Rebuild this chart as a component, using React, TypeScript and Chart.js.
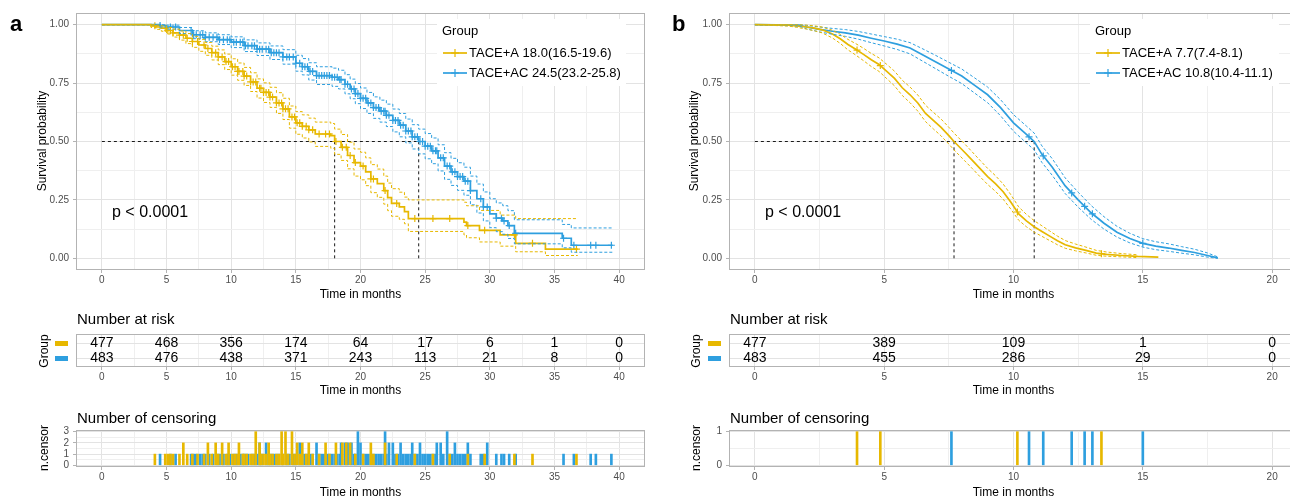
import React, { useEffect, useRef } from "react";
import { Chart, registerables } from "chart.js";

Chart.register(...registerables);

const FONT = "'Liberation Sans', Arial, Helvetica, sans-serif";
const COL_A = "#E7B800";
const COL_AC = "#2E9FDF";
const GRID_MAJOR = "#E3E3E3";
const GRID_MINOR = "#EFEFEF";
const BORDER = "#B3B3B3";
const TICK_TEXT = "#4D4D4D";

// ---------------- Panel a : survival (TACE+A) ----------------
const aTimeA = [0, 3.8, 4.2, 4.6, 5.0, 5.5, 6.0, 6.5, 7.0, 7.5, 8.0, 8.5, 9.0, 9.5, 10.0, 10.5, 11.0, 11.5, 12.0, 12.5, 13.0, 13.5, 14.0, 14.5, 15.0, 15.5, 16.0, 16.5, 17.7, 18.0, 18.5, 19.0, 19.5, 20.0, 20.4, 20.8, 21.3, 21.8, 22.1, 22.4, 23.0, 23.4, 23.7, 28.0, 28.2, 29.2, 30.8, 32.0, 34.3, 36.8];
const aSurvA = [1, 0.995, 0.99, 0.985, 0.975, 0.965, 0.955, 0.942, 0.928, 0.913, 0.898, 0.88, 0.862, 0.842, 0.82, 0.8, 0.78, 0.755, 0.728, 0.71, 0.69, 0.665, 0.64, 0.605, 0.58, 0.565, 0.55, 0.532, 0.525, 0.5, 0.475, 0.44, 0.41, 0.395, 0.37, 0.34, 0.32, 0.29, 0.26, 0.235, 0.22, 0.2, 0.17, 0.155, 0.14, 0.12, 0.1, 0.064, 0.039, 0.039];
const aUpperA = [1, 1, 0.998, 0.995, 0.988, 0.981, 0.973, 0.962, 0.95, 0.937, 0.924, 0.908, 0.892, 0.874, 0.854, 0.836, 0.817, 0.794, 0.768, 0.751, 0.732, 0.709, 0.685, 0.652, 0.628, 0.614, 0.6, 0.583, 0.577, 0.553, 0.53, 0.497, 0.468, 0.454, 0.43, 0.401, 0.382, 0.352, 0.322, 0.298, 0.283, 0.262, 0.25, 0.24, 0.225, 0.205, 0.185, 0.17, 0.17, 0.17];
const aLowerA = [1, 0.988, 0.98, 0.972, 0.96, 0.947, 0.934, 0.919, 0.903, 0.886, 0.869, 0.849, 0.829, 0.808, 0.784, 0.762, 0.74, 0.714, 0.686, 0.667, 0.646, 0.62, 0.594, 0.557, 0.531, 0.515, 0.498, 0.479, 0.471, 0.445, 0.419, 0.383, 0.352, 0.336, 0.311, 0.281, 0.261, 0.232, 0.204, 0.18, 0.167, 0.148, 0.115, 0.1, 0.088, 0.07, 0.052, 0.028, 0.012, 0.012];

// ---------------- Panel a : survival (TACE+AC) ----------------
const aTimeAC = [0, 4.5, 5.0, 6.0, 7.0, 8.0, 9.0, 10.0, 11.0, 12.0, 13.0, 14.0, 15.0, 15.5, 16.0, 16.6, 17.8, 18.3, 18.8, 19.2, 19.6, 20.0, 20.5, 21.0, 21.5, 22.0, 22.5, 23.0, 23.5, 24.0, 24.5, 25.0, 25.5, 26.0, 26.5, 27.0, 27.5, 28.0, 28.5, 29.0, 29.5, 30.0, 30.5, 31.0, 31.4, 31.9, 35.6, 36.3, 39.5];
const aSurvAC = [1, 0.996, 0.99, 0.975, 0.957, 0.946, 0.936, 0.925, 0.91, 0.895, 0.88, 0.862, 0.835, 0.82, 0.8, 0.782, 0.775, 0.765, 0.745, 0.725, 0.705, 0.685, 0.665, 0.645, 0.63, 0.612, 0.59, 0.57, 0.545, 0.52, 0.5, 0.48, 0.46, 0.43, 0.395, 0.37, 0.35, 0.33, 0.29, 0.255, 0.22, 0.19, 0.172, 0.16, 0.14, 0.107, 0.086, 0.056, 0.056];
const aUpperAC = [1, 1, 0.998, 0.988, 0.974, 0.965, 0.957, 0.948, 0.935, 0.922, 0.909, 0.893, 0.869, 0.855, 0.837, 0.82, 0.814, 0.805, 0.786, 0.767, 0.748, 0.729, 0.71, 0.691, 0.677, 0.66, 0.639, 0.62, 0.596, 0.572, 0.553, 0.534, 0.515, 0.486, 0.452, 0.428, 0.409, 0.39, 0.352, 0.318, 0.284, 0.255, 0.237, 0.225, 0.204, 0.165, 0.145, 0.13, 0.13];
const aLowerAC = [1, 0.99, 0.981, 0.962, 0.94, 0.927, 0.915, 0.902, 0.885, 0.868, 0.851, 0.831, 0.801, 0.785, 0.763, 0.744, 0.736, 0.725, 0.704, 0.683, 0.662, 0.641, 0.62, 0.599, 0.583, 0.564, 0.541, 0.52, 0.494, 0.468, 0.447, 0.426, 0.405, 0.374, 0.338, 0.312, 0.291, 0.27, 0.229, 0.194, 0.16, 0.131, 0.114, 0.103, 0.085, 0.062, 0.045, 0.026, 0.026];

// ---------------- Panel a : censoring ----------------
const aCensTimeA = [4.1, 4.9, 5.1, 5.3, 5.5, 6.0, 6.3, 6.6, 7.0, 7.4, 7.9, 8.2, 8.5, 8.8, 9.0, 9.3, 9.6, 9.8, 10.1, 10.3, 10.5, 10.6, 10.9, 11.0, 11.2, 11.5, 11.7, 11.9, 12.2, 12.3, 12.5, 12.7, 12.9, 13.0, 13.2, 13.5, 13.7, 13.9, 14.0, 14.2, 14.4, 14.7, 14.9, 15.1, 15.3, 15.5, 15.8, 16.0, 16.3, 16.8, 17.3, 17.6, 18.1, 18.6, 18.9, 19.2, 19.6, 20.2, 20.8, 21.0, 21.9, 22.8, 24.2, 25.6, 26.9, 28.3, 29.6, 31.9, 33.3, 36.7];
const aCensCountA = [1, 1, 1, 1, 1, 1, 2, 1, 1, 1, 1, 2, 1, 2, 1, 2, 1, 2, 1, 1, 1, 2, 1, 1, 1, 1, 1, 3, 2, 1, 1, 1, 2, 1, 1, 1, 1, 3, 1, 3, 1, 3, 1, 2, 1, 2, 1, 2, 1, 1, 2, 1, 2, 2, 2, 2, 1, 1, 2, 1, 2, 1, 1, 1, 1, 1, 1, 1, 1, 1];
const aCensTimeAC = [4.5, 5.3, 5.7, 6.9, 7.1, 7.3, 7.6, 7.8, 8.0, 8.3, 8.6, 8.9, 9.1, 9.4, 9.7, 9.9, 10.2, 10.4, 10.7, 10.9, 11.1, 11.3, 11.6, 11.8, 12.0, 12.2, 12.4, 12.7, 12.9, 13.1, 13.3, 13.5, 13.7, 14.0, 14.3, 14.5, 14.8, 15.0, 15.3, 15.5, 15.7, 15.9, 16.1, 16.3, 16.6, 16.8, 17.0, 17.2, 17.4, 17.6, 17.8, 18.0, 18.2, 18.4, 18.5, 18.8, 19.0, 19.3, 19.5, 19.6, 19.8, 20.0, 20.2, 20.4, 20.6, 20.8, 21.0, 21.2, 21.4, 21.6, 21.8, 21.9, 22.0, 22.2, 22.5, 22.7, 22.9, 23.1, 23.3, 23.5, 23.7, 23.9, 24.0, 24.2, 24.4, 24.6, 24.8, 25.0, 25.2, 25.4, 25.6, 25.8, 25.9, 26.2, 26.4, 26.7, 26.9, 27.1, 27.3, 27.5, 27.7, 27.9, 28.1, 28.3, 28.5, 29.3, 29.5, 29.8, 30.5, 30.9, 31.1, 31.5, 32.0, 35.7, 36.5, 37.8, 38.2, 39.4];
const aCensCountAC = [1, 1, 1, 1, 1, 1, 1, 1, 1, 1, 1, 1, 1, 1, 1, 1, 1, 1, 1, 1, 1, 1, 1, 1, 1, 2, 1, 2, 1, 1, 1, 1, 1, 1, 1, 1, 1, 1, 2, 1, 1, 1, 1, 1, 2, 1, 1, 1, 1, 1, 1, 1, 1, 1, 2, 2, 2, 2, 1, 1, 3, 2, 1, 1, 1, 1, 1, 1, 1, 1, 1, 3, 1, 2, 2, 1, 1, 2, 1, 1, 1, 1, 2, 1, 1, 2, 1, 1, 1, 1, 1, 1, 2, 2, 1, 3, 1, 1, 2, 1, 1, 1, 1, 2, 1, 1, 1, 2, 1, 1, 1, 1, 1, 1, 1, 1, 1, 1];

// ---------------- Panel a : risk table / medians ----------------
const aXTicks = [0, 5, 10, 15, 20, 25, 30, 35, 40];
const aRiskTimes = [0, 5, 10, 15, 20, 25, 30, 35, 40];
const aRiskA = [477, 468, 356, 174, 64, 17, 6, 1, 0];
const aRiskAC = [483, 476, 438, 371, 243, 113, 21, 8, 0];
const aMedians = [18.0, 24.5];
const aLegendLabels = ["TACE+A 18.0(16.5-19.6)", "TACE+AC 24.5(23.2-25.8)"];
const aCensorTicks = [0, 1, 2, 3];

// ---------------- Panel b : survival (TACE+A) ----------------
const bTimeA = [0, 1.3, 1.6, 2.0, 2.3, 2.6, 3.0, 3.3, 3.6, 3.9, 4.2, 4.5, 4.8, 5.1, 5.4, 5.7, 6.0, 6.3, 6.6, 6.9, 7.2, 7.5, 7.7, 8.1, 8.4, 8.7, 9.0, 9.3, 9.6, 9.9, 10.2, 10.5, 10.8, 11.1, 11.4, 11.7, 12.0, 12.4, 12.8, 13.2, 13.6, 14.2, 14.8, 15.6];
const bSurvA = [1, 0.998, 0.995, 0.99, 0.985, 0.978, 0.96, 0.94, 0.915, 0.895, 0.873, 0.85, 0.83, 0.8, 0.77, 0.73, 0.7, 0.665, 0.62, 0.59, 0.56, 0.525, 0.5, 0.455, 0.42, 0.385, 0.35, 0.32, 0.285, 0.24, 0.19, 0.16, 0.135, 0.115, 0.095, 0.075, 0.058, 0.045, 0.034, 0.022, 0.017, 0.012, 0.008, 0.005];
const bUpperA = [1, 1, 1, 0.998, 0.995, 0.99, 0.976, 0.959, 0.937, 0.919, 0.899, 0.877, 0.858, 0.83, 0.801, 0.762, 0.733, 0.699, 0.655, 0.625, 0.596, 0.561, 0.536, 0.491, 0.456, 0.42, 0.385, 0.354, 0.318, 0.272, 0.22, 0.188, 0.161, 0.139, 0.117, 0.095, 0.076, 0.061, 0.048, 0.034, 0.027, 0.02, 0.015, null];
const bLowerA = [1, 0.994, 0.989, 0.981, 0.974, 0.965, 0.943, 0.92, 0.892, 0.87, 0.846, 0.821, 0.8, 0.769, 0.738, 0.697, 0.666, 0.63, 0.585, 0.554, 0.524, 0.489, 0.464, 0.419, 0.385, 0.35, 0.316, 0.287, 0.253, 0.21, 0.163, 0.135, 0.112, 0.094, 0.076, 0.058, 0.043, 0.032, 0.023, 0.013, 0.009, 0.006, 0.003, null];

// ---------------- Panel b : survival (TACE+AC) ----------------
const bTimeAC = [0, 1.7, 2.0, 2.5, 3.0, 3.5, 4.0, 4.5, 5.0, 5.5, 6.0, 6.5, 7.0, 7.5, 8.0, 8.5, 9.0, 9.5, 10.0, 10.5, 10.8, 11.1, 11.5, 12.0, 12.5, 13.0, 13.5, 14.0, 14.5, 15.0, 15.5, 16.0, 16.5, 17.0, 17.5, 17.9];
const bSurvAC = [1, 0.998, 0.99, 0.98, 0.972, 0.965, 0.955, 0.942, 0.93, 0.917, 0.9, 0.87, 0.84, 0.81, 0.78, 0.74, 0.7, 0.645, 0.58, 0.53, 0.5, 0.445, 0.39, 0.31, 0.25, 0.195, 0.15, 0.112, 0.085, 0.064, 0.052, 0.044, 0.034, 0.025, 0.012, 0.002];
const bUpperAC = [1, 1, 0.997, 0.99, 0.984, 0.979, 0.971, 0.96, 0.949, 0.938, 0.923, 0.896, 0.868, 0.839, 0.81, 0.772, 0.733, 0.679, 0.615, 0.566, 0.536, 0.481, 0.426, 0.344, 0.283, 0.226, 0.178, 0.137, 0.107, 0.084, 0.071, 0.062, 0.05, 0.039, 0.023, 0.006];
const bLowerAC = [1, 0.994, 0.982, 0.969, 0.959, 0.95, 0.938, 0.923, 0.909, 0.894, 0.875, 0.843, 0.811, 0.779, 0.748, 0.707, 0.666, 0.61, 0.544, 0.494, 0.464, 0.41, 0.355, 0.277, 0.219, 0.167, 0.125, 0.091, 0.066, 0.048, 0.037, 0.03, 0.022, 0.015, 0.005, 0];

// ---------------- Panel b : censoring / risk / medians ----------------
const bCensTimeA = [3.95, 4.85, 10.15, 13.4];
const bCensCountA = [1, 1, 1, 1];
const bCensTimeAC = [7.6, 10.6, 11.15, 12.25, 12.75, 13.05, 15.0];
const bCensCountAC = [1, 1, 1, 1, 1, 1, 1];
const bXTicks = [0, 5, 10, 15, 20];
const bRiskTimes = [0, 5, 10, 15, 20];
const bRiskA = [477, 389, 109, 1, 0];
const bRiskAC = [483, 455, 286, 29, 0];
const bMedians = [7.7, 10.8];
const bLegendLabels = ["TACE+A 7.7(7.4-8.1)", "TACE+AC 10.8(10.4-11.1)"];
const bCensorTicks = [0, 1];

const survTicks = [0, 0.25, 0.5, 0.75, 1];

// ---------------- layout ----------------
type Panel = { left: number; canvasW: number; xMin: number; xMax: number; plotL: number; plotR: number; xTicks: number[] };
type Row = { top: number; h: number; plotT: number; plotB: number };

const ROW_KM: Row = { top: 0, h: 305, plotT: 13, plotB: 270 };
const ROW_RISK: Row = { top: 305, h: 95, plotT: 334, plotB: 367 };
const ROW_CENS: Row = { top: 400, h: 99, plotT: 430, plotB: 467 };

const PANEL_A: Panel = { left: 0, canvasW: 650, xMin: -2, xMax: 42, plotL: 76, plotR: 645, xTicks: aXTicks };
const PANEL_B: Panel = { left: 650, canvasW: 660, xMin: -1, xMax: 21, plotL: 729, plotR: 1298, xTicks: bXTicks };

type Group = {
  times: number[]; surv: number[]; upper: (number | null)[]; lower: (number | null)[];
  censT: number[]; censN: number[]; color: string; stepped: boolean;
};

type Txt = { text: string; x: number; y: number; size: number; bold?: boolean; color?: string; align?: CanvasTextAlign; rotate?: boolean };

function drawTexts(ctx: CanvasRenderingContext2D, texts: Txt[], ox: number, oy: number) {
  for (const t of texts) {
    ctx.save();
    ctx.font = `${t.bold ? "bold " : ""}${t.size}px ${FONT}`;
    ctx.fillStyle = t.color || "#000";
    ctx.textAlign = t.align || "left";
    ctx.textBaseline = "middle";
    ctx.translate(t.x - ox, t.y - oy);
    if (t.rotate) ctx.rotate(-Math.PI / 2);
    ctx.fillText(t.text, 0, 0);
    ctx.restore();
  }
}

type LegendSpec = { x: number; y: number; w: number; h: number; items: { label: string; color: string }[] };

function drawLegend(ctx: CanvasRenderingContext2D, lg: LegendSpec, ox: number, oy: number) {
  const x = lg.x - ox;
  const y = lg.y - oy;
  ctx.save();
  ctx.fillStyle = "#fff";
  ctx.fillRect(x, y, lg.w, lg.h);
  ctx.font = `13px ${FONT}`;
  ctx.fillStyle = "#000";
  ctx.textAlign = "left";
  ctx.textBaseline = "middle";
  ctx.fillText("Group", x + 5, y + 12);
  lg.items.forEach((it, i) => {
    const cy = y + 34 + i * 20;
    ctx.strokeStyle = it.color;
    ctx.lineWidth = 1.7;
    ctx.beginPath();
    ctx.moveTo(x + 6, cy);
    ctx.lineTo(x + 30, cy);
    ctx.stroke();
    ctx.lineWidth = 1.2;
    ctx.beginPath();
    ctx.moveTo(x + 18, cy - 4);
    ctx.lineTo(x + 18, cy + 4);
    ctx.moveTo(x + 14, cy);
    ctx.lineTo(x + 22, cy);
    ctx.stroke();
    ctx.fillStyle = "#000";
    ctx.fillText(it.label, x + 32, cy);
  });
  ctx.restore();
}

function deco(draw: (ctx: CanvasRenderingContext2D, chart: any) => void) {
  return {
    id: "deco",
    afterDraw(chart: any) {
      const ctx: CanvasRenderingContext2D = chart.ctx;
      const a = chart.chartArea;
      ctx.save();
      ctx.strokeStyle = BORDER;
      ctx.lineWidth = 1;
      ctx.strokeRect(Math.round(a.left) + 0.5, Math.round(a.top) + 0.5, Math.round(a.right - a.left) - 1, Math.round(a.bottom - a.top) - 1);
      ctx.restore();
      ctx.save();
      draw(ctx, chart);
      ctx.restore();
    },
  };
}

function axis(
  min: number, max: number, majors: number[], withMinor: boolean, fmt: (v: number) => string,
  fit: (s: any) => void, o: { tickLen: number; pad: number; showTicks: boolean }
) {
  const vals = [...majors];
  if (withMinor) for (let i = 0; i < majors.length - 1; i++) vals.push((majors[i] + majors[i + 1]) / 2);
  vals.sort((p, q) => p - q);
  const isMajor = (v: number) => majors.some((m) => Math.abs(m - v) < 1e-9);
  return {
    type: "linear",
    min,
    max,
    offset: false,
    afterBuildTicks: (s: any) => {
      s.ticks = vals.map((v) => ({ value: v }));
    },
    afterFit: fit,
    ticks: {
      autoSkip: false,
      maxRotation: 0,
      minRotation: 0,
      padding: o.pad,
      color: TICK_TEXT,
      font: { family: FONT, size: 10 },
      callback: (v: any) => (isMajor(Number(v)) ? fmt(Number(v)) : ""),
    },
    grid: {
      offset: false,
      drawOnChartArea: true,
      drawTicks: true,
      tickLength: o.tickLen,
      lineWidth: 1,
      color: (c: any) => (c.tick && isMajor(c.tick.value) ? GRID_MAJOR : GRID_MINOR),
      tickColor: (c: any) => (o.showTicks && c.tick && isMajor(c.tick.value) ? BORDER : "rgba(0,0,0,0)"),
    },
    border: { display: false },
  };
}

function common(panel: Panel, row: Row) {
  return {
    responsive: false,
    animation: false,
    devicePixelRatio: 1,
    events: [],
    layout: { padding: { left: 0, top: row.plotT - row.top, right: panel.left + panel.canvasW - panel.plotR, bottom: 0 } },
    plugins: { legend: { display: false }, tooltip: { enabled: false }, title: { display: false } },
  };
}

function xAxisFor(panel: Panel, row: Row) {
  return axis(panel.xMin, panel.xMax, panel.xTicks, true, (v) => String(v), (s: any) => { s.height = row.top + row.h - row.plotB; }, { tickLen: 3, pad: 1, showTicks: true });
}

function survAt(g: Group, t: number): number {
  if (g.stepped) {
    let v = g.surv[0];
    for (let i = 0; i < g.times.length; i++) if (g.times[i] <= t + 1e-9) v = g.surv[i];
    return v;
  }
  for (let i = 1; i < g.times.length; i++) {
    if (t <= g.times[i]) {
      const f = (t - g.times[i - 1]) / (g.times[i] - g.times[i - 1]);
      return g.surv[i - 1] + f * (g.surv[i] - g.surv[i - 1]);
    }
  }
  return g.surv[g.surv.length - 1];
}

const xy = (ts: number[], vs: (number | null)[]) => ts.map((t, i) => ({ x: t, y: vs[i] }));

function lineDs(data: any[], color: string, width: number, dash: number[], stepped: boolean) {
  return {
    type: "line",
    data,
    borderColor: color,
    backgroundColor: color,
    borderWidth: width,
    borderDash: dash,
    pointRadius: 0,
    pointHoverRadius: 0,
    stepped: stepped ? "before" : false,
    tension: 0,
    fill: false,
  };
}

function kmConfig(panel: Panel, groups: Group[], medians: number[], texts: Txt[], legend: LegendSpec) {
  const row = ROW_KM;
  const datasets: any[] = [];
  for (const g of groups) {
    datasets.push(lineDs(xy(g.times, g.upper), g.color, 1, [3, 2], g.stepped));
    datasets.push(lineDs(xy(g.times, g.lower), g.color, 1, [3, 2], g.stepped));
  }
  for (const g of groups) datasets.push(lineDs(xy(g.times, g.surv), g.color, 1.7, [], g.stepped));
  for (const g of groups) {
    const pts: any[] = [];
    g.censT.forEach((t, i) => { if (g.censN[i] > 0) pts.push({ x: t, y: survAt(g, t) }); });
    datasets.push({
      type: "line", data: pts, showLine: false, pointStyle: "cross", pointRadius: 3.5, pointHoverRadius: 0,
      pointBorderWidth: 1.2, borderColor: g.color, pointBorderColor: g.color, pointBackgroundColor: g.color,
    });
  }
  const mMax = Math.max(...medians);
  datasets.push(lineDs([{ x: 0, y: 0.5 }, { x: mMax, y: 0.5 }], "#1a1a1a", 1, [3, 3], false));
  medians.forEach((m) => datasets.push(lineDs([{ x: m, y: 0 }, { x: m, y: 0.5 }], "#1a1a1a", 1, [3, 3], false)));

  return {
    type: "line",
    data: { datasets },
    options: {
      ...common(panel, row),
      scales: {
        x: xAxisFor(panel, row),
        y: axis(-0.05, 1.05, survTicks, true, (v) => v.toFixed(2), (s: any) => { s.width = panel.plotL - panel.left; }, { tickLen: 3, pad: 4, showTicks: true }),
      },
    },
    plugins: [deco((ctx) => { drawTexts(ctx, texts, panel.left, row.top); drawLegend(ctx, legend, panel.left, row.top); })],
  };
}

function riskConfig(panel: Panel, times: number[], rows: { values: number[]; y: number; color: string }[], texts: Txt[], keyX: number) {
  const row = ROW_RISK;
  return {
    type: "scatter",
    data: { datasets: rows.map((r) => ({ data: times.map((t) => ({ x: t, y: r.y })), pointRadius: 0, pointHoverRadius: 0 })) },
    options: {
      ...common(panel, row),
      scales: {
        x: xAxisFor(panel, row),
        y: axis(0.4, 2.6, [1, 2], false, () => "", (s: any) => { s.width = panel.plotL - panel.left; }, { tickLen: 3, pad: 4, showTicks: false }),
      },
    },
    plugins: [deco((ctx, chart) => {
      const xs = chart.scales.x;
      const ys = chart.scales.y;
      ctx.font = `14px ${FONT}`;
      ctx.fillStyle = "#000";
      ctx.textAlign = "center";
      ctx.textBaseline = "middle";
      rows.forEach((r) => {
        times.forEach((t, i) => ctx.fillText(String(r.values[i]), xs.getPixelForValue(t), ys.getPixelForValue(r.y)));
        ctx.fillStyle = r.color;
        ctx.fillRect(keyX - panel.left, Math.round(ys.getPixelForValue(r.y)) - 2, 13, 5);
        ctx.fillStyle = "#000";
      });
      drawTexts(ctx, texts, panel.left, row.top);
    })],
  };
}

function censConfig(panel: Panel, groups: Group[], yTicks: number[], texts: Txt[]) {
  const row = ROW_CENS;
  const yMax = yTicks[yTicks.length - 1];
  return {
    type: "bar",
    data: {
      datasets: groups.map((g) => ({
        data: g.censT.map((t, i) => ({ x: t, y: g.censN[i] })),
        backgroundColor: g.color,
        borderWidth: 0,
        barThickness: 2,
        grouped: false,
      })),
    },
    options: {
      ...common(panel, row),
      scales: {
        x: xAxisFor(panel, row),
        y: axis(-0.05 * yMax, 1.05 * yMax, yTicks, true, (v) => String(v), (s: any) => { s.width = panel.plotL - panel.left; }, { tickLen: 3, pad: 4, showTicks: true }),
      },
    },
    plugins: [deco((ctx) => drawTexts(ctx, texts, panel.left, row.top))],
  };
}

// ---------------- groups ----------------
const groupsA: Group[] = [
  { times: aTimeA, surv: aSurvA, upper: aUpperA, lower: aLowerA, censT: aCensTimeA, censN: aCensCountA, color: COL_A, stepped: true },
  { times: aTimeAC, surv: aSurvAC, upper: aUpperAC, lower: aLowerAC, censT: aCensTimeAC, censN: aCensCountAC, color: COL_AC, stepped: true },
];
const groupsB: Group[] = [
  { times: bTimeA, surv: bSurvA, upper: bUpperA, lower: bLowerA, censT: bCensTimeA, censN: bCensCountA, color: COL_A, stepped: false },
  { times: bTimeAC, surv: bSurvAC, upper: bUpperAC, lower: bLowerAC, censT: bCensTimeAC, censN: bCensCountAC, color: COL_AC, stepped: false },
];

function panelTexts(p: Panel, letter: string, letterX: number, yTitleX: number, pX: number) {
  const cx = (p.plotL + p.plotR) / 2;
  const leftTxt = p.plotL + 1;
  const gx = yTitleX + 2;
  return {
    km: [
      { text: letter, x: letterX, y: 25, size: 22, bold: true },
      { text: "Survival probability", x: yTitleX, y: 141, size: 12, rotate: true, align: "center" as CanvasTextAlign },
      { text: "Time in months", x: cx, y: 295, size: 12, align: "center" as CanvasTextAlign },
      { text: "p < 0.0001", x: pX, y: 213, size: 16 },
    ],
    risk: [
      { text: "Number at risk", x: leftTxt, y: 320, size: 15 },
      { text: "Group", x: gx, y: 351, size: 12, rotate: true, align: "center" as CanvasTextAlign },
      { text: "Time in months", x: cx, y: 391, size: 12, align: "center" as CanvasTextAlign },
    ],
    cens: [
      { text: "Number of censoring", x: leftTxt, y: 419, size: 15 },
      { text: "n.censor", x: gx, y: 448, size: 12, rotate: true, align: "center" as CanvasTextAlign },
      { text: "Time in months", x: cx, y: 493, size: 12, align: "center" as CanvasTextAlign },
    ],
  };
}

const textsA = panelTexts(PANEL_A, "a", 10, 43, 112);
const textsB = panelTexts(PANEL_B, "b", 672, 695, 765);

function ChartCanvas({ left, top, width, height, build }: { left: number; top: number; width: number; height: number; build: () => any }) {
  const ref = useRef<HTMLCanvasElement>(null);
  useEffect(() => {
    if (!ref.current) return;
    const chart = new Chart(ref.current, build());
    return () => chart.destroy();
  }, []);
  return <canvas ref={ref} width={width} height={height} style={{ position: "absolute", left, top, width, height }} />;
}

export default function App() {
  return (
    <div style={{ position: "absolute", left: 0, top: 0, width: 1290, height: 499, overflow: "hidden", background: "#fff" }}>
      <ChartCanvas left={PANEL_A.left} top={ROW_KM.top} width={PANEL_A.canvasW} height={ROW_KM.h}
        build={() => kmConfig(PANEL_A, groupsA, aMedians, textsA.km, { x: 437, y: 19, w: 189, h: 67, items: [{ label: aLegendLabels[0], color: COL_A }, { label: aLegendLabels[1], color: COL_AC }] })} />
      <ChartCanvas left={PANEL_A.left} top={ROW_RISK.top} width={PANEL_A.canvasW} height={ROW_RISK.h}
        build={() => riskConfig(PANEL_A, aRiskTimes, [{ values: aRiskA, y: 2, color: COL_A }, { values: aRiskAC, y: 1, color: COL_AC }], textsA.risk, 55)} />
      <ChartCanvas left={PANEL_A.left} top={ROW_CENS.top} width={PANEL_A.canvasW} height={ROW_CENS.h}
        build={() => censConfig(PANEL_A, groupsA, aCensorTicks, textsA.cens)} />
      <ChartCanvas left={PANEL_B.left} top={ROW_KM.top} width={PANEL_B.canvasW} height={ROW_KM.h}
        build={() => kmConfig(PANEL_B, groupsB, bMedians, textsB.km, { x: 1090, y: 19, w: 189, h: 67, items: [{ label: bLegendLabels[0], color: COL_A }, { label: bLegendLabels[1], color: COL_AC }] })} />
      <ChartCanvas left={PANEL_B.left} top={ROW_RISK.top} width={PANEL_B.canvasW} height={ROW_RISK.h}
        build={() => riskConfig(PANEL_B, bRiskTimes, [{ values: bRiskA, y: 2, color: COL_A }, { values: bRiskAC, y: 1, color: COL_AC }], textsB.risk, 708)} />
      <ChartCanvas left={PANEL_B.left} top={ROW_CENS.top} width={PANEL_B.canvasW} height={ROW_CENS.h}
        build={() => censConfig(PANEL_B, groupsB, bCensorTicks, textsB.cens)} />
    </div>
  );
}
